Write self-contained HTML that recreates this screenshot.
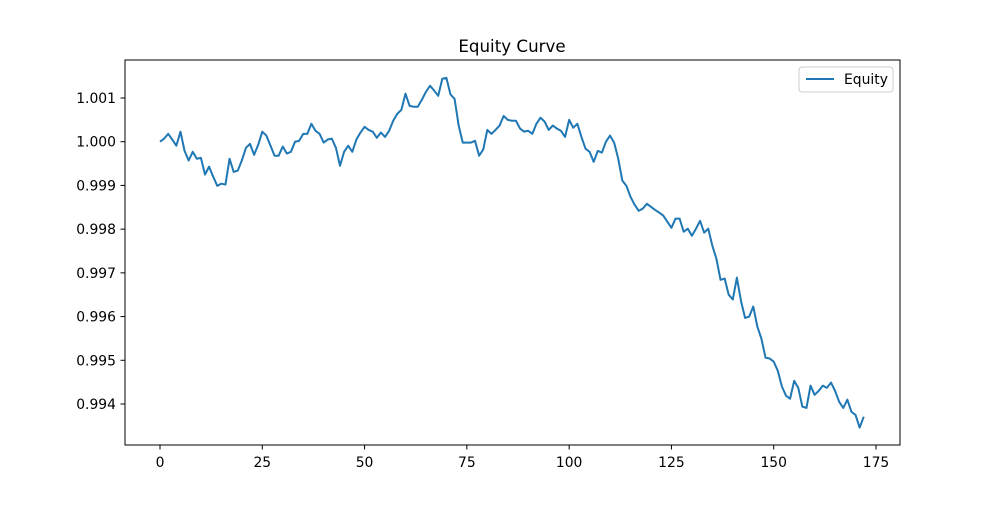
<!DOCTYPE html>
<html><head><meta charset="utf-8"><style>
body{margin:0;background:#fff;}
svg text{font-family:"DejaVu Sans","Liberation Sans",sans-serif;}
</style></head><body>
<svg id="chart" width="1000" height="500" xmlns="http://www.w3.org/2000/svg">
<rect width="1000" height="500" fill="#fff"/>
<text x="512" y="52" font-size="16.7" text-anchor="middle">Equity Curve</text>
<g id="axes"></g>
<path id="line" fill="none" stroke="#1f77b4" stroke-width="2" stroke-linejoin="round"/>
<rect x="125" y="60" width="775" height="385" fill="none" stroke="#000" stroke-width="1"/>
<g>
<rect x="799" y="67" width="94" height="25" fill="#fff" stroke="#ccc" rx="3"/>
<line x1="806" y1="79" x2="834" y2="79" stroke="#1f77b4" stroke-width="2"/>
<text x="844" y="84" font-size="13.9">Equity</text>
</g>
</svg>
<script>
const equity=[1.00000,1.00007,1.00018,1.00005,0.99991,1.00023,0.99979,0.99957,0.99977,0.99961,0.99963,0.99925,0.99943,0.99920,0.99899,0.99904,0.99902,0.99961,0.99931,0.99934,0.99957,0.99986,0.99995,0.99970,0.99993,1.00023,1.00014,0.99991,0.99968,0.99968,0.99989,0.99973,0.99977,1.00000,1.00002,1.00018,1.00018,1.00041,1.00025,1.00018,0.99998,1.00005,1.00007,0.99986,0.99945,0.99977,0.99991,0.99977,1.00005,1.00021,1.00034,1.00027,1.00023,1.00009,1.00021,1.00011,1.00025,1.00048,1.00064,1.00073,1.00110,1.00082,1.00080,1.00080,1.00096,1.00114,1.00128,1.00117,1.00105,1.00144,1.00146,1.00108,1.00098,1.00037,0.99998,0.99998,0.99998,1.00002,0.99968,0.99982,1.00027,1.00018,1.00027,1.00037,1.00059,1.00050,1.00048,1.00048,1.00030,1.00023,1.00025,1.00018,1.00041,1.00055,1.00046,1.00027,1.00037,1.00030,1.00025,1.00011,1.00050,1.00032,1.00041,1.00011,0.99984,0.99977,0.99954,0.99979,0.99975,1.00000,1.00014,0.99998,0.99961,0.99911,0.99899,0.99874,0.99856,0.99842,0.99847,0.99858,0.99851,0.99844,0.99838,0.99831,0.99817,0.99803,0.99824,0.99824,0.99794,0.99801,0.99785,0.99801,0.99819,0.99792,0.99801,0.99762,0.99732,0.99684,0.99687,0.99650,0.99639,0.99689,0.99636,0.99597,0.99600,0.99623,0.99577,0.99549,0.99506,0.99504,0.99497,0.99476,0.99440,0.99419,0.99412,0.99453,0.99437,0.99394,0.99391,0.99442,0.99421,0.99430,0.99442,0.99437,0.99449,0.99430,0.99405,0.99391,0.99410,0.99382,0.99375,0.99346,0.99371];
const xTicks=[0,25,50,75,100,125,150,175];
const yTicks=[0.994,0.995,0.996,0.997,0.998,0.999,1.000,1.001];
const X=i=>160+i*(716/175);
const Y=v=>98+(1.001-v)*43714;
const ns="http://www.w3.org/2000/svg";
const ax=document.getElementById('axes');
function mk(t,a){const e=document.createElementNS(ns,t);for(const k in a)e.setAttribute(k,a[k]);ax.appendChild(e);return e;}
xTicks.forEach(t=>{const x=X(t);
const l=mk('line',{x1:x,x2:x,y1:445,y2:449.5,stroke:'#000'});


const tx=mk('text',{x:x,y:467,'font-size':13.9,'text-anchor':'middle'});tx.textContent=t;

});
yTicks.forEach(t=>{const y=Y(t);
const l=mk('line',{x1:120.5,x2:125,y1:y,y2:y,stroke:'#000'});


const tx=mk('text',{x:116,y:y+5,'font-size':13.9,'text-anchor':'end'});tx.textContent=t.toFixed(3);

});
document.getElementById('line').setAttribute('d',equity.map((v,i)=>(i?'L':'M')+X(i).toFixed(2)+','+Y(v).toFixed(2)).join(''));
</script>
</body></html>
